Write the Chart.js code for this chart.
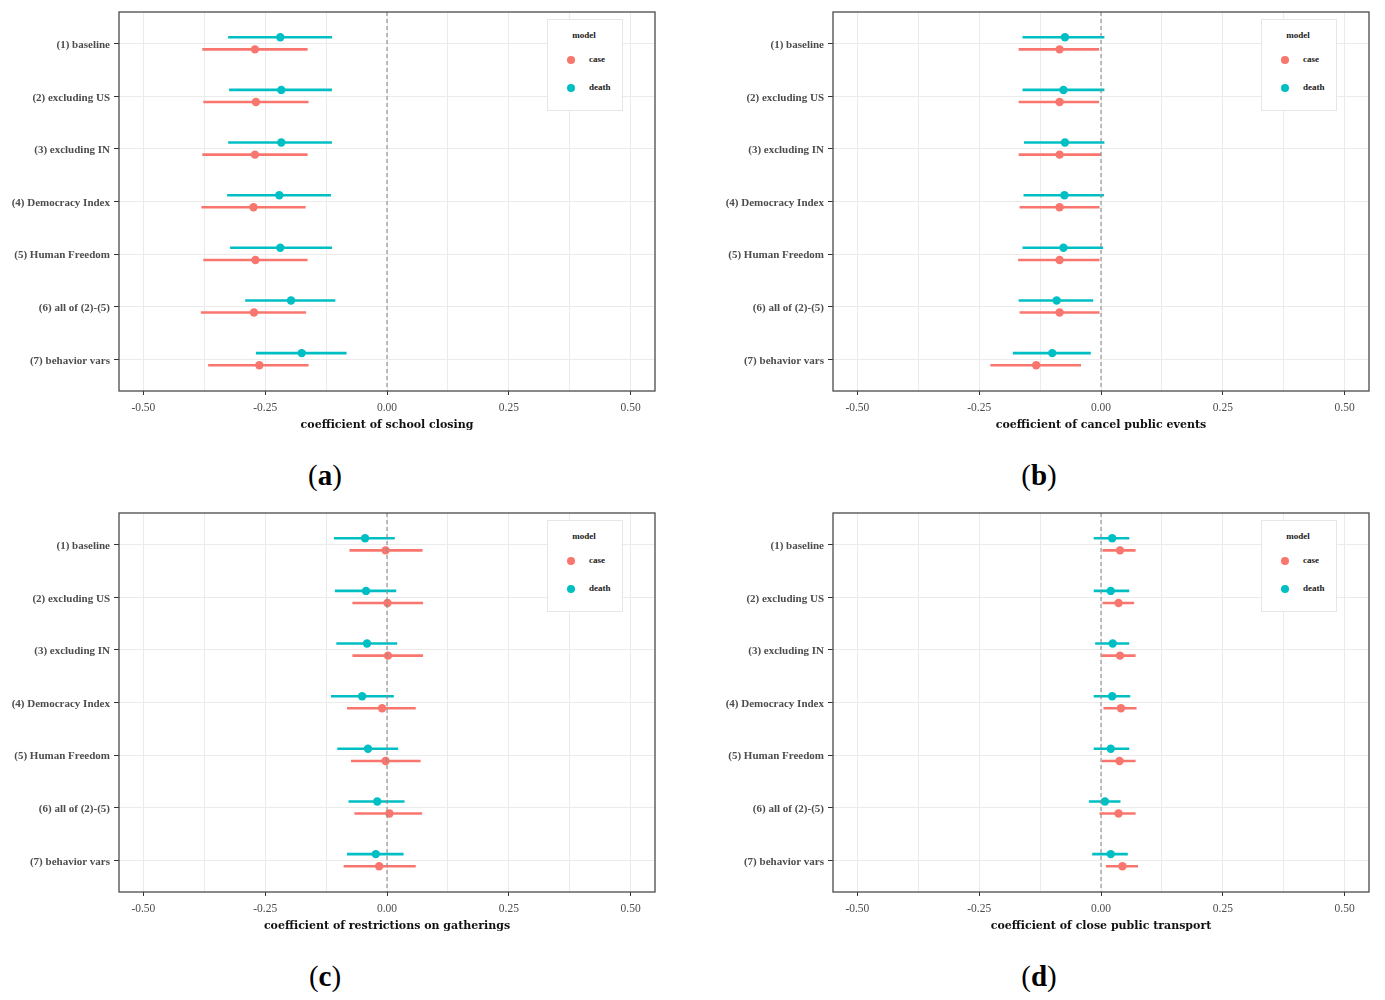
<!DOCTYPE html>
<html><head><meta charset="utf-8">
<script src="https://cdn.jsdelivr.net/npm/chart.js@4/dist/chart.umd.min.js"></script>
<style>
body{margin:0;background:#fff;width:1385px;height:1000px;position:relative;overflow:hidden;font-family:"Liberation Serif",serif}
.panel{position:absolute;width:670px;height:440px}
.panel canvas{position:absolute;left:0;top:0}
.legend{position:absolute;left:547px;top:19px;width:74px;height:90px;border:1px solid #e6e6e6;background:#fff;font-weight:bold;font-size:9px;color:#1a1a1a}
.legend .lt{position:absolute;left:0;width:72px;top:10px;text-align:center}
.legend .dot{position:absolute;width:8px;height:8px;border-radius:50%;left:19px}
.legend .lab{position:absolute;left:41px}
.sub{position:absolute;width:100px;text-align:center;font-size:29px;line-height:32px;color:#000}
.sub span{font-weight:normal}
</style>
</head><body>
<div id="root"></div>
<script>
const rowLabels = ['(1) baseline','(2) excluding US','(3) excluding IN','(4) Democracy Index','(5) Human Freedom','(6) all of (2)-(5)','(7) behavior vars'];
const xTickValues = [-0.5,-0.25,0,0.25,0.5];
const panelTitles = ['coefficient of school closing','coefficient of cancel public events','coefficient of restrictions on gatherings','coefficient of close public transport'];
const panelLetters = ['a','b','c','d'];
const seriesNames = ['case','death'];

// (a) school closing
const schoolCase   = [-0.271,-0.269,-0.271,-0.274,-0.270,-0.273,-0.262];
const schoolCaseLo = [-0.379,-0.377,-0.379,-0.381,-0.377,-0.382,-0.367];
const schoolCaseHi = [-0.163,-0.161,-0.163,-0.167,-0.163,-0.166,-0.161];
const schoolDeath   = [-0.219,-0.217,-0.217,-0.221,-0.219,-0.197,-0.175];
const schoolDeathLo = [-0.326,-0.324,-0.326,-0.328,-0.322,-0.291,-0.269];
const schoolDeathHi = [-0.113,-0.113,-0.113,-0.115,-0.113,-0.106,-0.083];
// (b) cancel public events
const eventsCase   = [-0.085,-0.085,-0.085,-0.085,-0.085,-0.085,-0.133];
const eventsCaseLo = [-0.169,-0.169,-0.169,-0.167,-0.170,-0.167,-0.227];
const eventsCaseHi = [-0.004,-0.004,0.000,-0.003,-0.003,-0.003,-0.041];
const eventsDeath   = [-0.074,-0.077,-0.074,-0.075,-0.077,-0.091,-0.100];
const eventsDeathLo = [-0.161,-0.161,-0.158,-0.159,-0.161,-0.169,-0.181];
const eventsDeathHi = [0.007,0.007,0.007,0.006,0.004,-0.016,-0.021];
// (c) restrictions on gatherings
const gatherCase   = [-0.003,0.001,0.002,-0.010,-0.003,0.005,-0.016];
const gatherCaseLo = [-0.077,-0.071,-0.071,-0.082,-0.074,-0.067,-0.089];
const gatherCaseHi = [0.073,0.074,0.074,0.059,0.069,0.072,0.059];
const gatherDeath   = [-0.045,-0.043,-0.041,-0.051,-0.039,-0.020,-0.023];
const gatherDeathLo = [-0.109,-0.107,-0.104,-0.115,-0.102,-0.079,-0.082];
const gatherDeathHi = [0.016,0.019,0.021,0.014,0.023,0.036,0.034];
// (d) close public transport
const transCase   = [0.039,0.036,0.039,0.041,0.038,0.036,0.044];
const transCaseLo = [0.003,0.003,0.001,0.005,0.002,-0.003,0.010];
const transCaseHi = [0.071,0.068,0.071,0.073,0.071,0.071,0.076];
const transDeath   = [0.023,0.020,0.024,0.023,0.020,0.008,0.020];
const transDeathLo = [-0.015,-0.015,-0.012,-0.015,-0.015,-0.025,-0.018];
const transDeathHi = [0.058,0.058,0.058,0.060,0.058,0.040,0.055];

const panels = [
  {case:[schoolCase,schoolCaseLo,schoolCaseHi], death:[schoolDeath,schoolDeathLo,schoolDeathHi]},
  {case:[eventsCase,eventsCaseLo,eventsCaseHi], death:[eventsDeath,eventsDeathLo,eventsDeathHi]},
  {case:[gatherCase,gatherCaseLo,gatherCaseHi], death:[gatherDeath,gatherDeathLo,gatherDeathHi]},
  {case:[transCase,transCaseLo,transCaseHi], death:[transDeath,transDeathLo,transDeathHi]}
];

// styling
const COLORS = {case:'#F8766D', death:'#00BFC4'};
const DODGE = {case:0.11, death:-0.12};
const POS = [[0,0],[714,0],[0,501],[714,501]];
const GRID_VALUES = [-0.5,-0.375,-0.25,-0.125,0,0.125,0.25,0.375,0.5];
const TICK_FONT = {family:'"Liberation Serif", serif', size:11, weight:'bold'};

const framePlugin = {id:'frame', afterDraw(chart){
  const {ctx, chartArea:a} = chart;
  ctx.save(); ctx.strokeStyle='#4a4a4a'; ctx.lineWidth=1.3;
  ctx.strokeRect(a.left, a.top, a.right-a.left, a.bottom-a.top);
  ctx.restore();
}};

const root = document.getElementById('root');
panels.forEach((p, k) => {
  const div = document.createElement('div');
  div.className = 'panel';
  div.style.left = POS[k][0]+'px'; div.style.top = POS[k][1]+'px';
  const cv = document.createElement('canvas');
  cv.width = 670; cv.height = 440;
  cv.style.width='670px'; cv.style.height='440px';
  div.appendChild(cv);
  const leg = document.createElement('div');
  leg.className='legend';
  leg.innerHTML = '<div class="lt">model</div>' +
    seriesNames.map((s,i)=>'<div class="dot" style="background:'+COLORS[s]+';top:'+(36+28*i)+'px"></div><div class="lab" style="top:'+(34+28*i)+'px">'+s+'</div>').join('');
  div.appendChild(leg);
  root.appendChild(div);

  const sub = document.createElement('div');
  sub.className='sub';
  sub.style.left = (POS[k][0]+325-50)+'px';
  sub.style.top = (POS[k][1]+459)+'px';
  sub.innerHTML = '<span>(</span><b>'+panelLetters[k]+'</b><span>)</span>';
  root.appendChild(sub);

  const datasets = [];
  datasets.push({data:[{x:0,y:0.4},{x:0,y:7.6}], showLine:true, borderColor:'#8c8c8c', borderWidth:1.1, borderDash:[4,3], pointRadius:0, fill:false});
  ['death','case'].forEach(s => {
    const [est] = p[s];
    datasets.push({data: est.map((v,i)=>({x:v, y:i+1+DODGE[s]})), showLine:false, pointRadius:4.2, pointBackgroundColor:COLORS[s], pointBorderWidth:0, borderColor:COLORS[s]});
  });
  ['death','case'].forEach(s => {
    const [, lo, hi] = p[s];
    lo.forEach((l,i)=>{
      datasets.push({data:[{x:l,y:i+1+DODGE[s]},{x:hi[i],y:i+1+DODGE[s]}], showLine:true, borderColor:COLORS[s], borderWidth:2.6, pointRadius:0, fill:false, borderCapStyle:'butt'});
    });
  });

  new Chart(cv, {
    type:'scatter',
    data:{datasets},
    plugins:[framePlugin],
    options:{
      responsive:false, animation:false,
      layout:{padding:{top:12,right:15,bottom:0,left:0}},
      plugins:{legend:{display:false}, tooltip:{enabled:false}},
      scales:{
        x:{type:'linear', min:-0.55, max:0.55,
          afterBuildTicks: ax => { ax.ticks = GRID_VALUES.map(v=>({value:v})); },
          afterFit: ax => { ax.height = 49; },
          ticks:{autoSkip:false, maxRotation:0, color:'#4d4d4d', font:{family:'"Liberation Serif", serif', size:11.5}, padding:6,
            callback: v => xTickValues.includes(v) ? v.toFixed(2) : ''},
          grid:{color:'#ebebeb', lineWidth:1, tickLength:4,
            tickColor: ctx => (ctx.tick && xTickValues.includes(ctx.tick.value)) ? '#333' : 'rgba(0,0,0,0)'},
          border:{display:false},
          title:{display:true, text:panelTitles[k], color:'#111', font:{family:'"DejaVu Serif", serif', size:11, weight:'bold'}, padding:{top:0,bottom:8}}
        },
        y:{type:'linear', min:0.4, max:7.6, reverse:true,
          afterBuildTicks: ax => { ax.ticks = rowLabels.map((_,i)=>({value:i+1})); },
          afterFit: ax => { ax.width = 119; },
          ticks:{autoSkip:false, color:'#4d4d4d', font:TICK_FONT, padding:4, labelOffset:1.5,
            callback: v => rowLabels[v-1] || ''},
          grid:{color:'#ebebeb', lineWidth:1, tickLength:5, tickColor:'#333'},
          border:{display:false}
        }
      }
    }
  });
});
</script>
</body></html>
